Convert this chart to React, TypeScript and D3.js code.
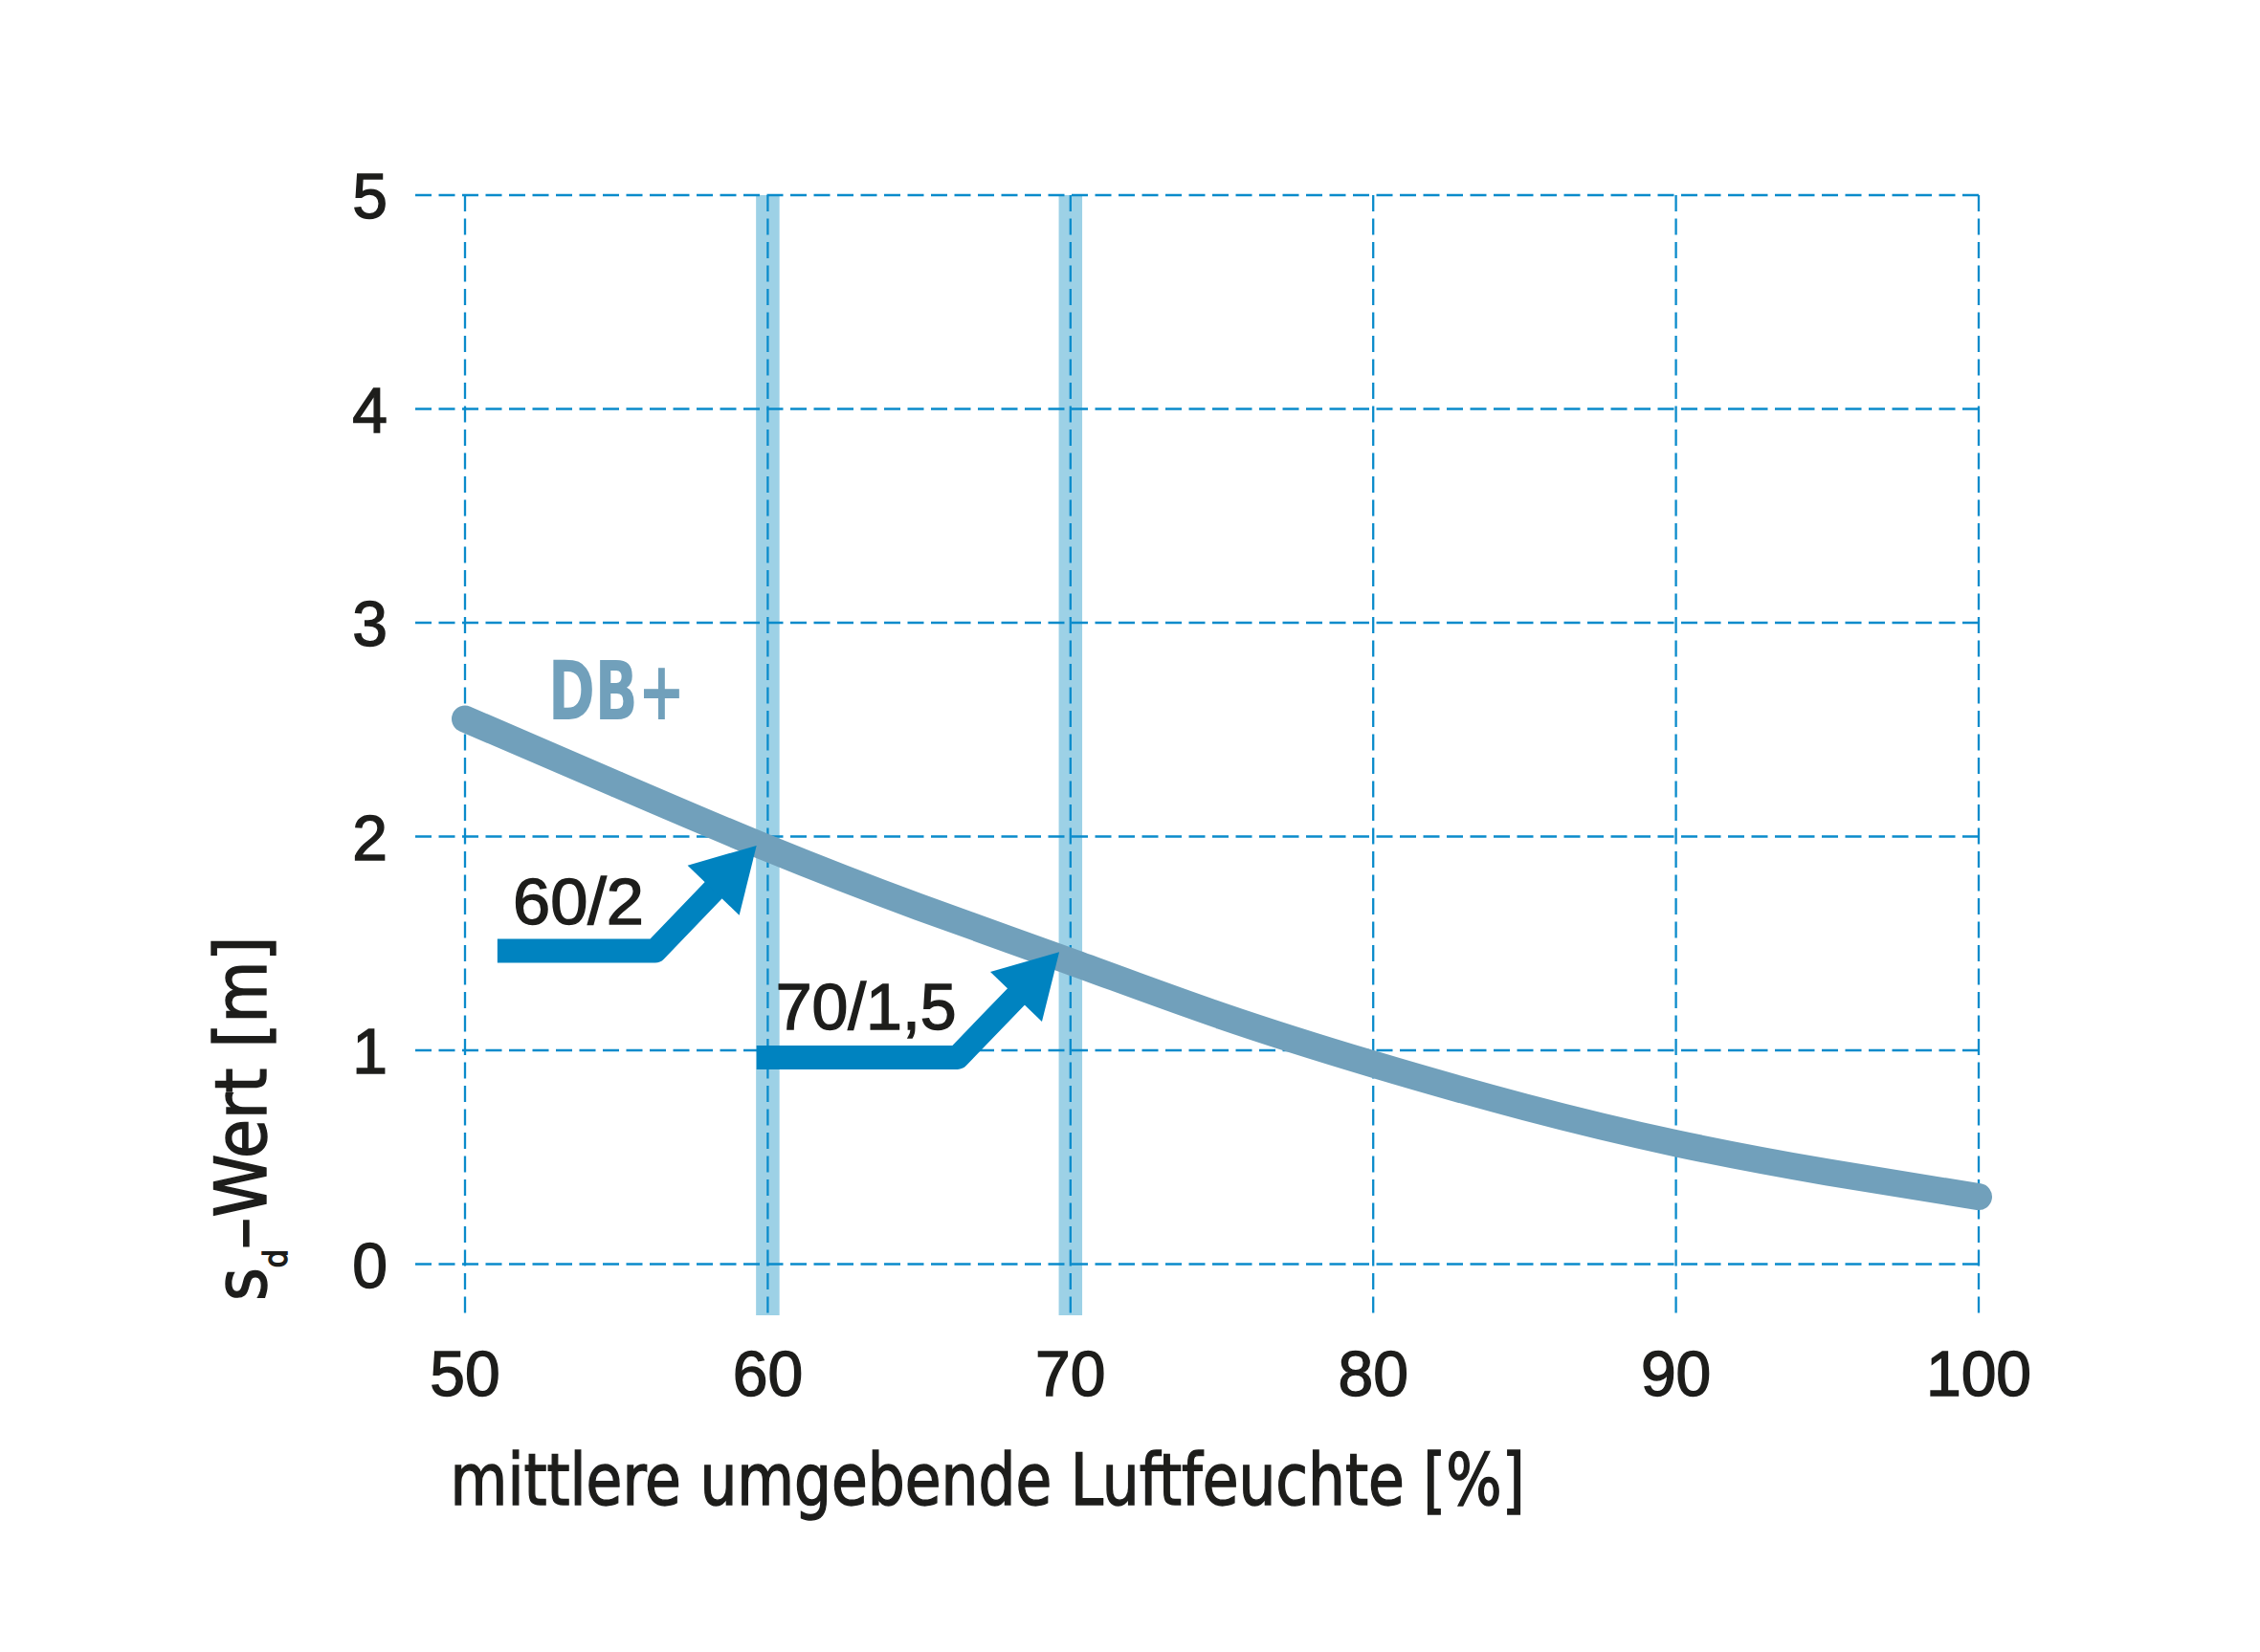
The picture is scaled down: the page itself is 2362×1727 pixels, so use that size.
import * as d3 from "d3";

// s_d value of DB+ over mean ambient humidity
const humidity = [50, 55, 60, 65, 70, 75, 80, 85, 90, 95, 100];
const sdValues = [2.55, 2.245, 1.945, 1.67, 1.415, 1.16, 0.935, 0.735, 0.565, 0.43, 0.315];

const xTicks = [50, 60, 70, 80, 90, 100];
const yTicks = [0, 1, 2, 3, 4, 5];
const highlightX = [60, 70];

// annotation arrows: start, bend, tip (data coords)
const arrowLabels = ["60/2", "70/1,5"];
const arrowStart = [[51.07, 1.465], [59.63, 0.967]];
const arrowBend = [[56.28, 1.465], [66.27, 0.967]];
const arrowTip = [[59.63, 1.958], [69.63, 1.46]];
const arrowLabelPos = [[51.58, 1.59], [60.26, 1.099]];
const arrowLabelLen = [137, 189];

const seriesName = "DB+";
const seriesLabelPos = [52.75, 2.549];

const W = 2362;
const H = 1727;

const GRID = "#0a8bcb";
const BAND = "#9dd1e6";
const CURVE = "#71a0bb";
const ARROW = "#0083c0";
const TEXT = "#1d1d1b";

const FONT = "'Liberation Sans', Arial, sans-serif";
const NARROW = "'Liberation Sans Narrow', 'DejaVu Sans Condensed', 'Liberation Sans', sans-serif";

export default function App() {
  const x = d3.scaleLinear().domain([50, 100]).range([486, 2068]);
  const y = d3.scaleLinear().domain([0, 5]).range([1321.5, 204]);

  const gridLeft = 434;
  const gridBottom = 1375;

  const data = humidity.map((h, i) => [h, sdValues[i]] as [number, number]);
  const line = d3
    .line<[number, number]>()
    .x(d => x(d[0]))
    .y(d => y(d[1]))
    .curve(d3.curveNatural);

  // arrow geometry in pixels
  const headLen = 65;
  const headHalf = 37.5;
  const arrows = arrowTip.map((tip, i) => {
    const s = [x(arrowStart[i][0]), y(arrowStart[i][1])];
    const b = [x(arrowBend[i][0]), y(arrowBend[i][1])];
    const t = [x(tip[0]), y(tip[1])];
    const dx = t[0] - b[0];
    const dy = t[1] - b[1];
    const len = Math.hypot(dx, dy);
    const ux = dx / len;
    const uy = dy / len;
    const base = [t[0] - ux * headLen, t[1] - uy * headLen];
    const shaftEnd = [base[0] + ux * 6, base[1] + uy * 6];
    const w1 = [base[0] - uy * headHalf, base[1] + ux * headHalf];
    const w2 = [base[0] + uy * headHalf, base[1] - ux * headHalf];
    return {
      shaft: `M${s[0]},${s[1]}L${b[0]},${b[1]}L${shaftEnd[0]},${shaftEnd[1]}`,
      head: `M${t[0]},${t[1]}L${w1[0]},${w1[1]}L${w2[0]},${w2[1]}Z`,
    };
  });

  // a little outline gives the text the heavier look of the original
  const textWeight = { stroke: TEXT, strokeWidth: 1.4 };

  return (
    <svg
      width={W}
      height={H}
      style={{ position: "absolute", left: 0, top: 0, background: "#fff" }}
    >
      <rect width={W} height={H} fill="#fff" />

      {/* highlight bands at 60 and 70 % */}
      {highlightX.map(v => (
        <line
          key={"band" + v}
          x1={x(v)}
          x2={x(v)}
          y1={y(5)}
          y2={gridBottom}
          stroke={BAND}
          strokeWidth={24.5}
        />
      ))}

      {/* dashed grid */}
      <g stroke={GRID} strokeWidth={2.3} strokeDasharray="17 7.5" fill="none">
        {yTicks.map(t => (
          <line key={"gy" + t} x1={gridLeft} x2={x(100)} y1={y(t)} y2={y(t)} />
        ))}
        {xTicks.map(t => (
          <line key={"gx" + t} x1={x(t)} x2={x(t)} y1={y(5)} y2={gridBottom} />
        ))}
      </g>

      {/* curve */}
      <path
        d={line(data) ?? ""}
        fill="none"
        stroke={CURVE}
        strokeWidth={28}
        strokeLinecap="round"
        strokeLinejoin="round"
      />
      <text
        x={x(seriesLabelPos[0])}
        y={y(seriesLabelPos[1])}
        fill={CURVE}
        fontFamily={NARROW}
        fontWeight="bold"
        fontSize={86}
        textLength={143}
        lengthAdjust="spacingAndGlyphs"
      >
        {seriesName}
      </text>

      {/* arrows */}
      {arrows.map((a, i) => (
        <g key={"arrow" + i}>
          <path d={a.shaft} fill="none" stroke={ARROW} strokeWidth={25} strokeLinejoin="round" />
          <path d={a.head} fill={ARROW} />
        </g>
      ))}
      {arrowLabels.map((l, i) => (
        <text
          key={l}
          x={x(arrowLabelPos[i][0])}
          y={y(arrowLabelPos[i][1])}
          fill={TEXT}
          {...textWeight}
          fontFamily={FONT}
          fontSize={68}
          textLength={arrowLabelLen[i]}
          lengthAdjust="spacingAndGlyphs"
        >
          {l}
        </text>
      ))}

      {/* tick labels */}
      {yTicks.map(t => (
        <text
          key={"ty" + t}
          x={405}
          y={y(t) + 24}
          textAnchor="end"
          fill={TEXT}
          {...textWeight}
          fontFamily={FONT}
          fontSize={66}
        >
          {t}
        </text>
      ))}
      {xTicks.map(t => (
        <text
          key={"tx" + t}
          x={x(t)}
          y={1458.5}
          textAnchor="middle"
          fill={TEXT}
          {...textWeight}
          fontFamily={FONT}
          fontSize={66}
        >
          {t}
        </text>
      ))}

      {/* axis titles */}
      <text
        x={470.6}
        y={1572.7}
        fill={TEXT}
        {...textWeight}
        fontFamily={NARROW}
        fontSize={74}
        textLength={1123}
        lengthAdjust="spacingAndGlyphs"
      >
        mittlere umgebende Luftfeuchte [%]
      </text>
      <text
        transform="translate(277.7,1360) rotate(-90)"
        fill={TEXT}
        {...textWeight}
        fontFamily={NARROW}
        fontSize={74}
      >
        s
        <tspan fontSize={34} dy={22}>d</tspan>
        <tspan dy={-22}>–Wert [m]</tspan>
      </text>
    </svg>
  );
}
